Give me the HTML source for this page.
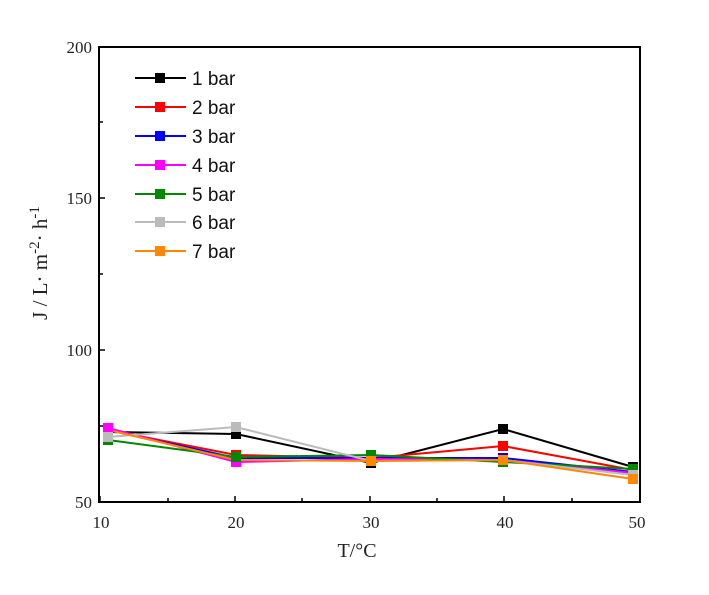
<!DOCTYPE html>
<html><head><meta charset="utf-8"><style>body{margin:0;background:#fff}</style></head><body>
<svg width="709" height="590" xmlns="http://www.w3.org/2000/svg">
<rect x="0" y="0" width="709" height="590" fill="#fff"/>
<rect x="99" y="47" width="541" height="455" fill="none" stroke="#000" stroke-width="2"/>
<g stroke="#000" stroke-width="1.5">
<line x1="99" y1="198" x2="105" y2="198"/><line x1="99" y1="350" x2="105" y2="350"/>
<line x1="99" y1="122" x2="103" y2="122"/><line x1="99" y1="274" x2="103" y2="274"/><line x1="99" y1="426" x2="103" y2="426"/>
<line x1="100" y1="502" x2="100" y2="496"/><line x1="235" y1="502" x2="235" y2="496"/><line x1="370" y1="502" x2="370" y2="496"/><line x1="504" y1="502" x2="504" y2="496"/>
<line x1="168" y1="502" x2="168" y2="498"/><line x1="302" y1="502" x2="302" y2="498"/><line x1="437" y1="502" x2="437" y2="498"/><line x1="572" y1="502" x2="572" y2="498"/>
</g>
<g font-family="Liberation Serif, serif" font-size="17" fill="#222" text-anchor="end">
<text x="92" y="53">200</text><text x="92" y="204">150</text><text x="92" y="356">100</text><text x="92" y="508">50</text>
</g>
<g font-family="Liberation Serif, serif" font-size="17" fill="#222" text-anchor="middle">
<text x="101" y="528">10</text><text x="236" y="528">20</text><text x="371" y="528">30</text><text x="505" y="528">40</text><text x="637" y="528">50</text>
<text x="357" y="557" font-size="20">T/°C</text>
</g>
<text transform="translate(47,263) rotate(-90)" font-family="Liberation Serif, serif" font-size="21" fill="#222" text-anchor="middle">J / L· m<tspan dy="-8" font-size="15">-2</tspan><tspan dy="8">· h</tspan><tspan dy="-8" font-size="15">-1</tspan></text>
<g stroke-width="2" fill="none">
<polyline stroke="#000" points="108,432 236,434 371,463 503,429 633,467"/>
<polyline stroke="#f00" points="108,430 236,455 371,458 503,446 633,470"/>
<polyline stroke="#00f" points="108,430 236,458 371,458 503,458 633,472"/>
<polyline stroke="#f0f" points="108,428 236,462 371,459 503,460 633,473"/>
<polyline stroke="#080" points="108,440 236,457 371,455 503,462 633,469"/>
<polyline stroke="#bbb" points="108,437 236,427 371,461 503,460 633,475"/>
<polyline stroke="#f80" points="108,430 236,460 371,461 503,460 633,479"/>
</g>
<g>
<g fill="#000"><rect x="103" y="427" width="10" height="10"/><rect x="231" y="429" width="10" height="10"/><rect x="366" y="458" width="10" height="10"/><rect x="498" y="424" width="10" height="10"/><rect x="628" y="462" width="10" height="10"/></g>
<g fill="#f00"><rect x="103" y="425" width="10" height="10"/><rect x="231" y="450" width="10" height="10"/><rect x="366" y="453" width="10" height="10"/><rect x="498" y="441" width="10" height="10"/><rect x="628" y="465" width="10" height="10"/></g>
<g fill="#00f"><rect x="103" y="425" width="10" height="10"/><rect x="231" y="453" width="10" height="10"/><rect x="366" y="453" width="10" height="10"/><rect x="498" y="453" width="10" height="10"/><rect x="628" y="467" width="10" height="10"/></g>
<g fill="#f0f"><rect x="103" y="423" width="10" height="10"/><rect x="231" y="457" width="10" height="10"/><rect x="366" y="454" width="10" height="10"/><rect x="498" y="455" width="10" height="10"/><rect x="628" y="468" width="10" height="10"/></g>
<g fill="#080"><rect x="103" y="435" width="10" height="10"/><rect x="231" y="452" width="10" height="10"/><rect x="366" y="450" width="10" height="10"/><rect x="498" y="457" width="10" height="10"/><rect x="628" y="464" width="10" height="10"/></g>
<g fill="#bbb"><rect x="103" y="432" width="10" height="10"/><rect x="231" y="422" width="10" height="10"/><rect x="366" y="456" width="10" height="10"/><rect x="498" y="455" width="10" height="10"/><rect x="628" y="470" width="10" height="10"/></g>
<g fill="#f80"><rect x="366" y="456" width="10" height="10"/><rect x="498" y="455" width="10" height="10"/><rect x="628" y="474" width="10" height="10"/></g>
</g>
<g font-family="Liberation Sans, sans-serif" font-size="19" fill="#111" stroke-width="2">
<line x1="135" y1="78" x2="186" y2="78" stroke="#000"/><rect x="155" y="73" width="10" height="10" fill="#000"/><text x="192" y="85">1 bar</text>
<line x1="135" y1="107" x2="186" y2="107" stroke="#f00"/><rect x="155" y="102" width="10" height="10" fill="#f00"/><text x="192" y="114">2 bar</text>
<line x1="135" y1="136" x2="186" y2="136" stroke="#00f"/><rect x="155" y="131" width="10" height="10" fill="#00f"/><text x="192" y="143">3 bar</text>
<line x1="135" y1="165" x2="186" y2="165" stroke="#f0f"/><rect x="155" y="160" width="10" height="10" fill="#f0f"/><text x="192" y="172">4 bar</text>
<line x1="135" y1="194" x2="186" y2="194" stroke="#080"/><rect x="155" y="189" width="10" height="10" fill="#080"/><text x="192" y="201">5 bar</text>
<line x1="135" y1="222" x2="186" y2="222" stroke="#bbb"/><rect x="155" y="217" width="10" height="10" fill="#bbb"/><text x="192" y="229">6 bar</text>
<line x1="135" y1="251" x2="186" y2="251" stroke="#f80"/><rect x="155" y="246" width="10" height="10" fill="#f80"/><text x="192" y="258">7 bar</text>
</g>
</svg>
</body></html>
